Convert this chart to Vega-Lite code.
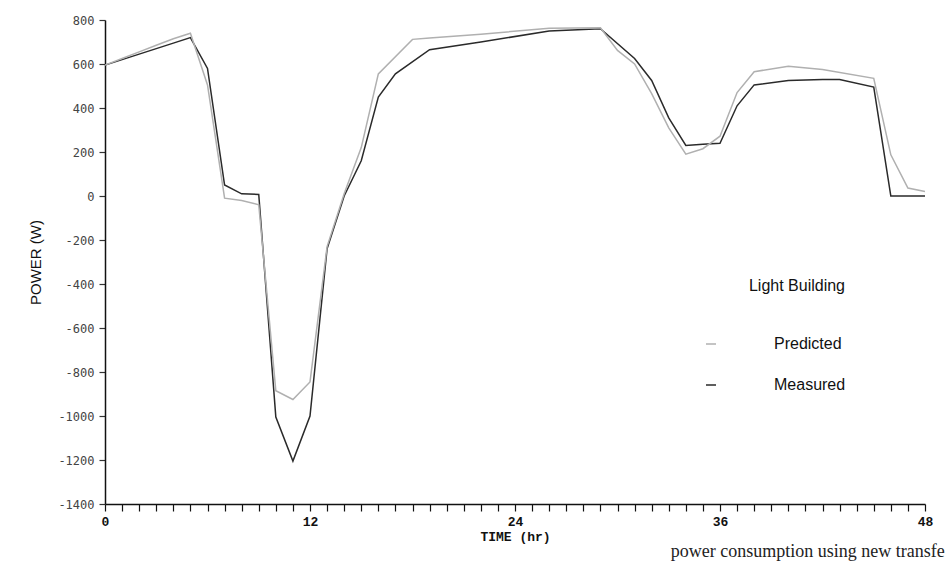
{
  "$schema": "https://vega.github.io/schema/vega-lite/v6.json",
  "width": 820,
  "height": 484,
  "autosize": {"type": "none"},
  "padding": {"left": 105, "top": 20, "right": 27, "bottom": 65},
  "background": "white",
  "config": {"view": {"stroke": null}},
  "title": {
    "text": "power consumption using new transfe",
    "orient": "bottom",
    "anchor": "end",
    "font": "Liberation Serif",
    "fontSize": 18,
    "fontWeight": "normal",
    "color": "#222",
    "offset": 0,
    "dx": 12
  },
  "data": {
    "values": [
      {"t": 0, "P": 595, "series": "Measured"},
      {"t": 1, "P": 620, "series": "Measured"},
      {"t": 2, "P": 645, "series": "Measured"},
      {"t": 3, "P": 670, "series": "Measured"},
      {"t": 4, "P": 695, "series": "Measured"},
      {"t": 5, "P": 720, "series": "Measured"},
      {"t": 6, "P": 580, "series": "Measured"},
      {"t": 7, "P": 50, "series": "Measured"},
      {"t": 8, "P": 10, "series": "Measured"},
      {"t": 9, "P": 7, "series": "Measured"},
      {"t": 10, "P": -1005, "series": "Measured"},
      {"t": 11, "P": -1205, "series": "Measured"},
      {"t": 12, "P": -1000, "series": "Measured"},
      {"t": 13, "P": -240, "series": "Measured"},
      {"t": 14, "P": 0, "series": "Measured"},
      {"t": 15, "P": 160, "series": "Measured"},
      {"t": 16, "P": 450, "series": "Measured"},
      {"t": 17, "P": 555, "series": "Measured"},
      {"t": 19, "P": 665, "series": "Measured"},
      {"t": 22, "P": 700, "series": "Measured"},
      {"t": 26, "P": 750, "series": "Measured"},
      {"t": 29, "P": 760, "series": "Measured"},
      {"t": 31, "P": 625, "series": "Measured"},
      {"t": 32, "P": 525, "series": "Measured"},
      {"t": 33, "P": 355, "series": "Measured"},
      {"t": 34, "P": 230, "series": "Measured"},
      {"t": 35, "P": 235, "series": "Measured"},
      {"t": 36, "P": 240, "series": "Measured"},
      {"t": 37, "P": 410, "series": "Measured"},
      {"t": 38, "P": 505, "series": "Measured"},
      {"t": 40, "P": 525, "series": "Measured"},
      {"t": 42, "P": 530, "series": "Measured"},
      {"t": 43, "P": 530, "series": "Measured"},
      {"t": 45, "P": 495, "series": "Measured"},
      {"t": 46, "P": 0, "series": "Measured"},
      {"t": 48, "P": 0, "series": "Measured"},
      {"t": 0, "P": 595, "series": "Predicted"},
      {"t": 1, "P": 625, "series": "Predicted"},
      {"t": 2, "P": 655, "series": "Predicted"},
      {"t": 3, "P": 685, "series": "Predicted"},
      {"t": 4, "P": 715, "series": "Predicted"},
      {"t": 5, "P": 740, "series": "Predicted"},
      {"t": 6, "P": 505, "series": "Predicted"},
      {"t": 7, "P": -10, "series": "Predicted"},
      {"t": 8, "P": -20, "series": "Predicted"},
      {"t": 9, "P": -40, "series": "Predicted"},
      {"t": 10, "P": -885, "series": "Predicted"},
      {"t": 11, "P": -925, "series": "Predicted"},
      {"t": 12, "P": -845, "series": "Predicted"},
      {"t": 13, "P": -230, "series": "Predicted"},
      {"t": 14, "P": 10, "series": "Predicted"},
      {"t": 15, "P": 220, "series": "Predicted"},
      {"t": 16, "P": 555, "series": "Predicted"},
      {"t": 18, "P": 712, "series": "Predicted"},
      {"t": 19, "P": 718, "series": "Predicted"},
      {"t": 22, "P": 735, "series": "Predicted"},
      {"t": 26, "P": 763, "series": "Predicted"},
      {"t": 29, "P": 765, "series": "Predicted"},
      {"t": 30, "P": 662, "series": "Predicted"},
      {"t": 31, "P": 600, "series": "Predicted"},
      {"t": 32, "P": 465, "series": "Predicted"},
      {"t": 33, "P": 310, "series": "Predicted"},
      {"t": 34, "P": 190, "series": "Predicted"},
      {"t": 35, "P": 215, "series": "Predicted"},
      {"t": 36, "P": 272, "series": "Predicted"},
      {"t": 37, "P": 470, "series": "Predicted"},
      {"t": 38, "P": 565, "series": "Predicted"},
      {"t": 40, "P": 590, "series": "Predicted"},
      {"t": 42, "P": 575, "series": "Predicted"},
      {"t": 45, "P": 535, "series": "Predicted"},
      {"t": 46, "P": 187, "series": "Predicted"},
      {"t": 47, "P": 36, "series": "Predicted"},
      {"t": 48, "P": 20, "series": "Predicted"}
    ]
  },
  "mark": {"type": "line", "strokeWidth": 1.5},
  "encoding": {
    "x": {
      "field": "t",
      "type": "quantitative",
      "scale": {"domain": [0, 48], "nice": false},
      "axis": {
        "title": "TIME (hr)",
        "titleFont": "Liberation Mono",
        "titleFontWeight": "bold",
        "titleFontSize": 13,
        "titleColor": "#111",
        "titlePadding": 2,
        "values": [0,1,2,3,4,5,6,7,8,9,10,11,12,13,14,15,16,17,18,19,20,21,22,23,24,25,26,27,28,29,30,31,32,33,34,35,36,37,38,39,40,41,42,43,44,45,46,47,48],
        "labelExpr": "datum.value % 12 === 0 ? '' + datum.value : ''",
        "labelFont": "Liberation Mono",
        "labelFontWeight": "bold",
        "labelFontSize": 13,
        "labelColor": "#111",
        "labelPadding": 4,
        "labelFlush": false,
        "labelOverlap": false,
        "grid": false,
        "domainColor": "#111",
        "domainWidth": 1.5,
        "tickColor": "#111",
        "tickSize": 7,
        "tickWidth": 1.2
      }
    },
    "y": {
      "field": "P",
      "type": "quantitative",
      "scale": {"domain": [-1400, 800], "nice": false},
      "axis": {
        "title": "POWER (W)",
        "titleFont": "Liberation Sans",
        "titleFontWeight": "normal",
        "titleFontSize": 15,
        "titleColor": "#111",
        "titlePadding": 14,
        "values": [-1400,-1200,-1000,-800,-600,-400,-200,0,200,400,600,800],
        "labelExpr": "'' + datum.value",
        "labelFont": "DejaVu Sans Mono",
        "labelFontSize": 12,
        "labelColor": "#444",
        "labelPadding": 5,
        "grid": false,
        "domainColor": "#111",
        "domainWidth": 1.5,
        "tickColor": "#333",
        "tickSize": 6,
        "tickWidth": 1.2
      }
    },
    "color": {
      "field": "series",
      "type": "nominal",
      "scale": {"domain": ["Predicted", "Measured"], "range": ["#b0b0b0", "#2a2a2a"]},
      "legend": {
        "title": "Light Building",
        "orient": "none",
        "legendX": 598,
        "legendY": 258,
        "titleFont": "Liberation Sans",
        "titleFontSize": 16,
        "titleFontWeight": "normal",
        "titleColor": "#111",
        "titlePadding": 42,
        "titleAnchor": "end",
        "labelFont": "Liberation Sans",
        "labelFontSize": 16,
        "labelColor": "#111",
        "labelOffset": 55,
        "rowPadding": 25,
        "symbolType": "stroke",
        "symbolSize": 100,
        "symbolStrokeWidth": 1.5
      }
    }
  }
}
